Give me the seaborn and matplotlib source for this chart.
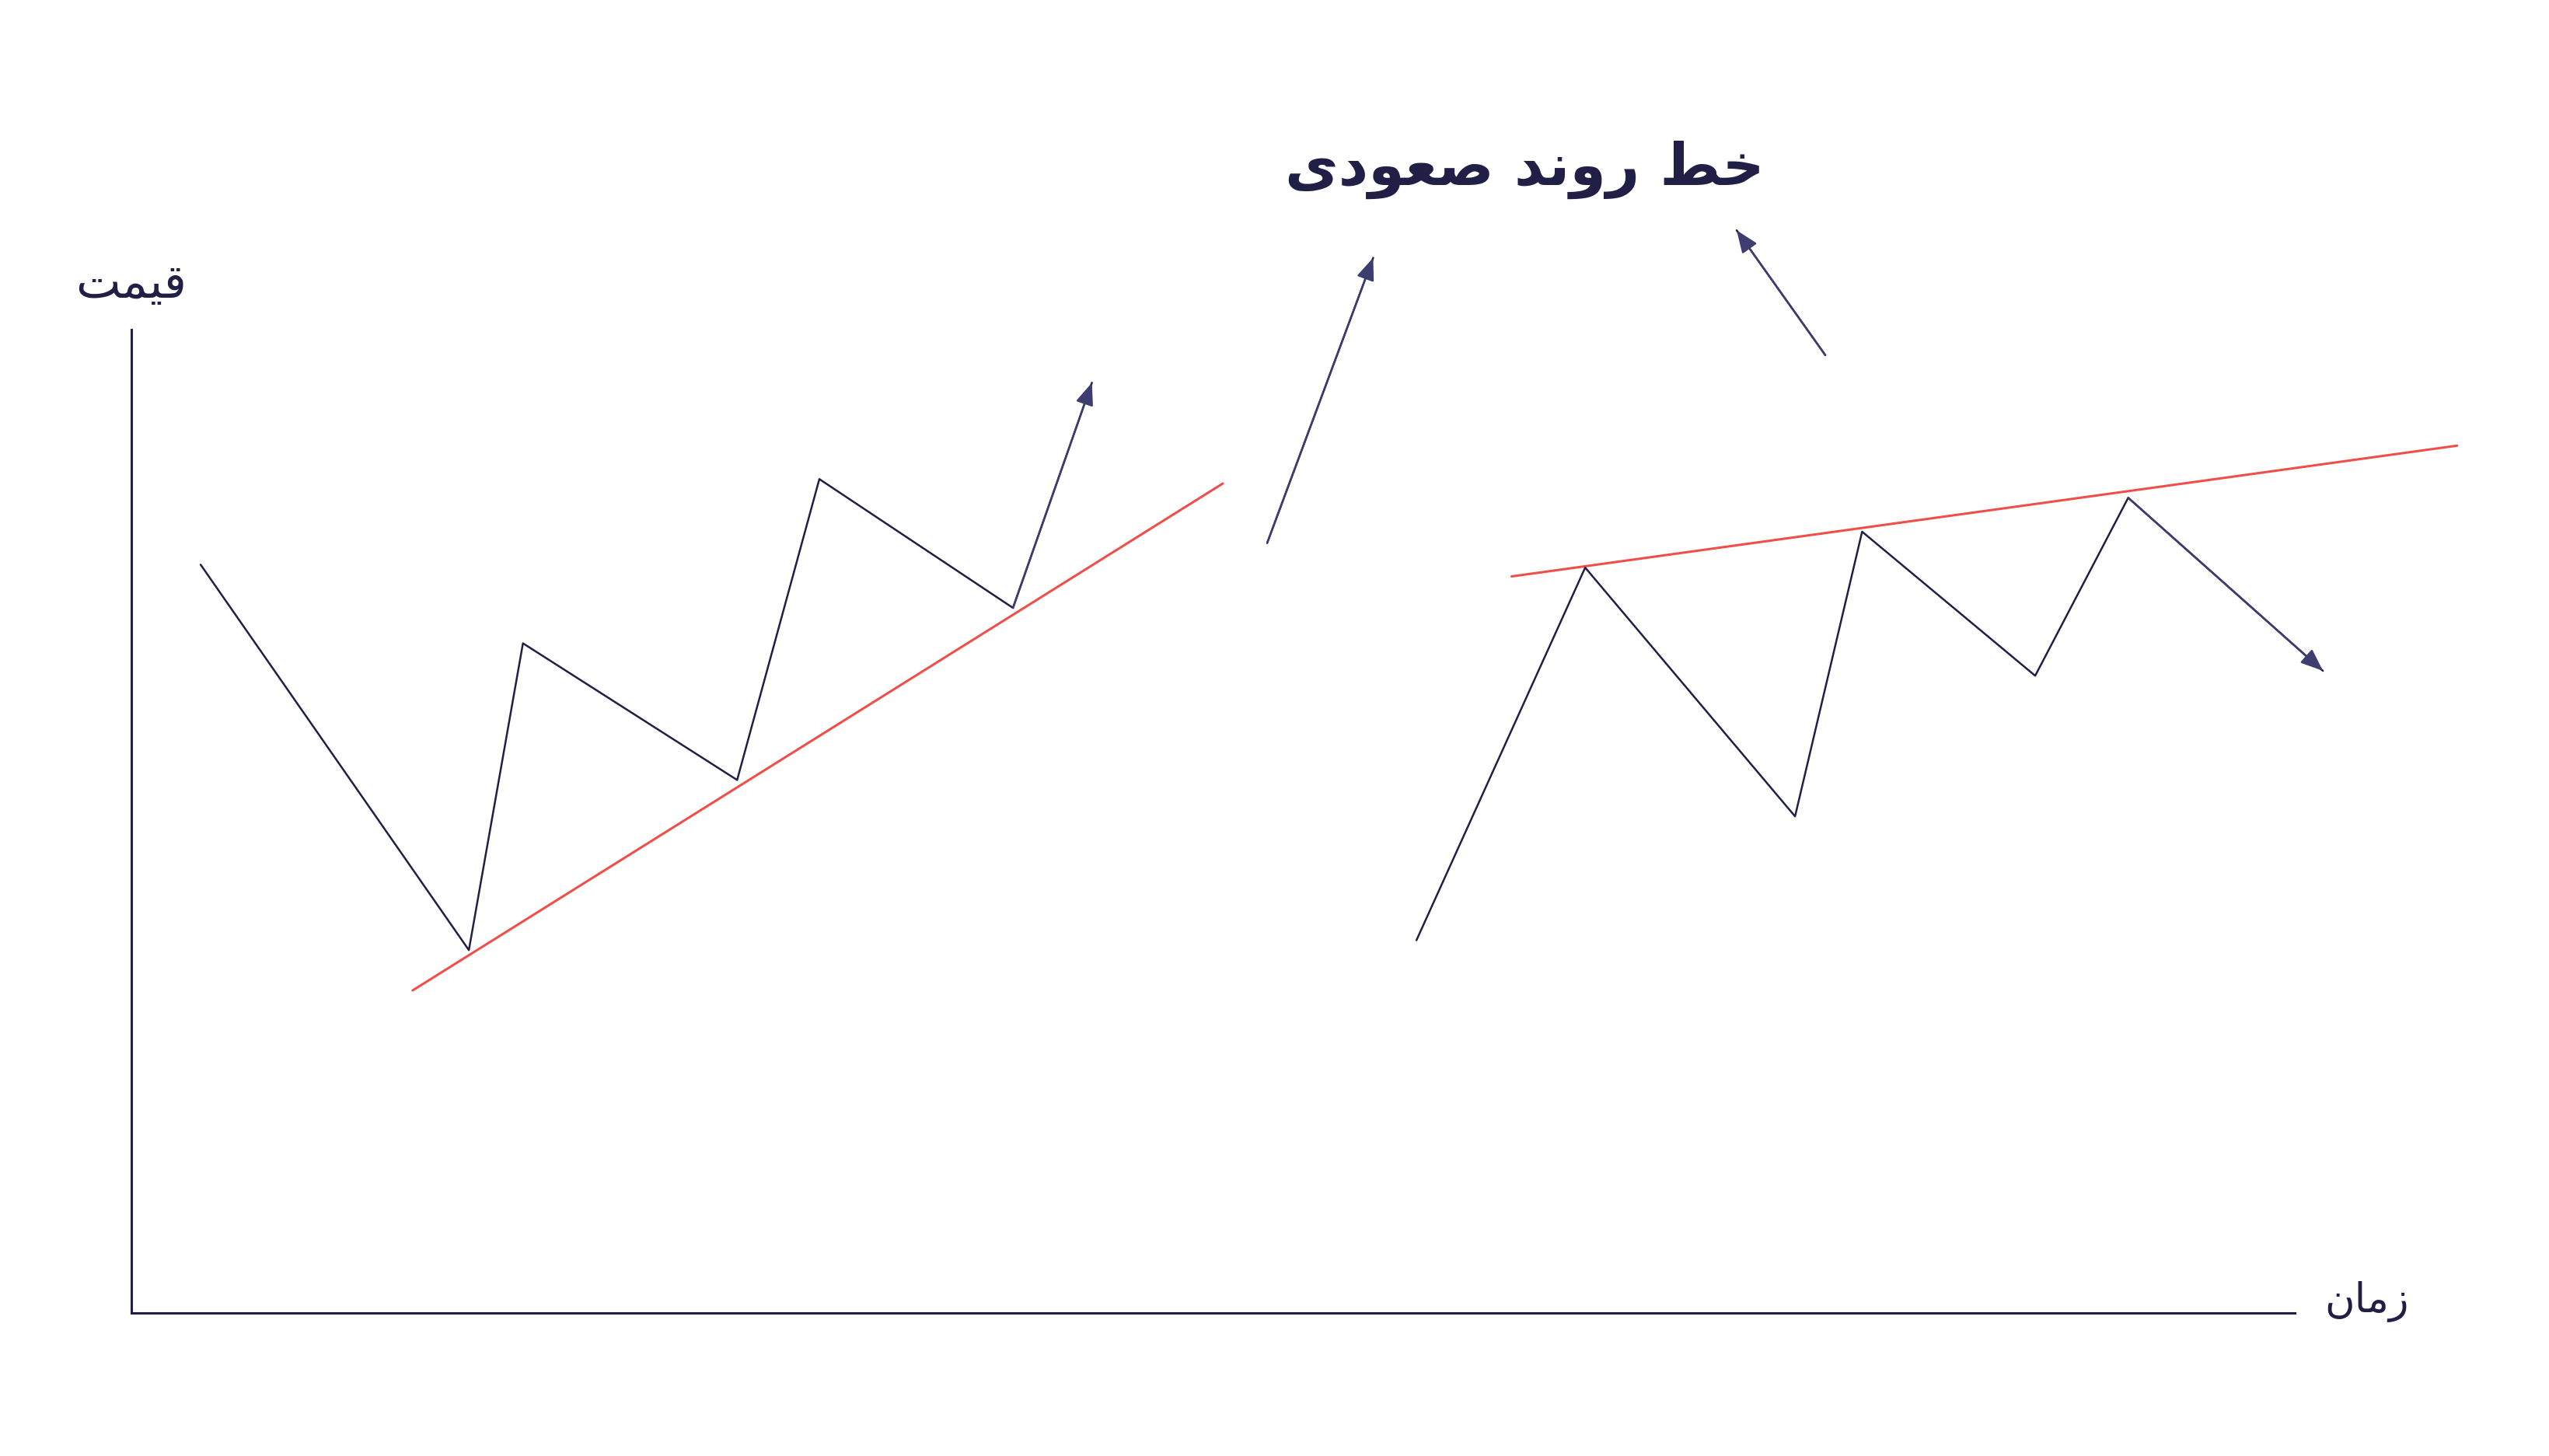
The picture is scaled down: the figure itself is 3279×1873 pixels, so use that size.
import numpy as np
import pandas as pd
import matplotlib
matplotlib.use("Agg")
import matplotlib.pyplot as plt
import seaborn as sns

# Persian labels, written with Arabic presentation forms in visual order
# (matplotlib does no shaping / bidi by itself)
title_text = "\uFEEF\uFEA9\uFEEE\uFECC\uFEBB \uFEAA\uFEE7\uFEED\uFEAD \uFEC2\uFEA7"  # خط روند صعودی
price_label = "\uFE96\uFEE4\uFEF4\uFED7"  # قیمت
time_label = "\uFEE5\uFE8E\uFEE3\uFEAF"   # زمان

# price path 1 (bouncing off rising support)
t1 = [3.2, 15.6, 18.1, 28.0, 31.8, 40.75, 44.4]
p1 = [76.1, 36.9, 68.1, 54.2, 84.8, 71.7, 94.6]
support_t = [13.0, 50.45]
support_p = [32.8, 84.35]

# price path 2 (rejected at rising resistance)
t2 = [59.4, 67.2, 76.9, 80.0, 88.0, 92.3, 101.3]
p2 = [37.9, 75.8, 50.5, 79.45, 64.8, 82.9, 65.3]
resist_t = [63.8, 107.5]
resist_p = [74.9, 88.2]

# pointer arrows towards the title
arrow1_t = [52.5, 57.4]
arrow1_p = [78.3, 107.3]
arrow2_t = [78.3, 74.2]
arrow2_p = [97.4, 110.1]

navy = "#211f45"
head = "#3e3d70"
red = "#ef4f4a"

sns.set_theme(style="white")
plt.rcParams["font.family"] = ["DejaVu Sans"]

fig = plt.figure(figsize=(32.79, 18.74), dpi=100)
ax = fig.add_axes([169 / 3279, 184 / 1874, 2783 / 3279, 1265 / 1874])
ax.set_xlim(0, 100)
ax.set_ylim(0, 100)

def path(ts, ps, color, lw):
    df = pd.DataFrame({"t": ts, "p": ps})
    sns.lineplot(data=df, x="t", y="p", sort=False, estimator=None,
                 color=color, linewidth=lw, ax=ax, clip_on=False)

def arrow_head(ts, ps):
    ax.annotate("", xy=(ts[-1], ps[-1]), xytext=(ts[-2], ps[-2]),
                arrowprops=dict(arrowstyle="-|>,head_length=0.55,head_width=0.22",
                                color=head, lw=1.8, mutation_scale=32,
                                shrinkA=0, shrinkB=0),
                annotation_clip=False)

path(support_t, support_p, red, 2.2)
path(resist_t, resist_p, red, 2.2)
path(t1, p1, navy, 1.8)
path(t2, p2, navy, 1.8)
path(arrow1_t, arrow1_p, navy, 1.8)
path(arrow2_t, arrow2_p, navy, 1.8)

arrow_head(t1, p1)
arrow_head(t2, p2)
arrow_head(arrow1_t, arrow1_p)
arrow_head(arrow2_t, arrow2_p)

# axes look: only left and bottom lines, no ticks
sns.despine(ax=ax)
for s in ["left", "bottom"]:
    ax.spines[s].set_color(navy)
    ax.spines[s].set_linewidth(2.2)
ax.set_xticks([])
ax.set_yticks([])
ax.set_xlabel("")
ax.set_ylabel("")

fig.text(169 / 3279, 1 - 367 / 1874, price_label, ha="center", va="center",
         fontsize=44, color=navy)
fig.text(3045 / 3279, 1 - 1675 / 1874, time_label, ha="center", va="center",
         fontsize=38, color=navy)
fig.text(1961 / 3279, 1 - 218 / 1874, title_text, ha="center", va="center",
         fontsize=54, fontweight="bold", color=navy)

fig.savefig("out.png", dpi=100, facecolor="white")
